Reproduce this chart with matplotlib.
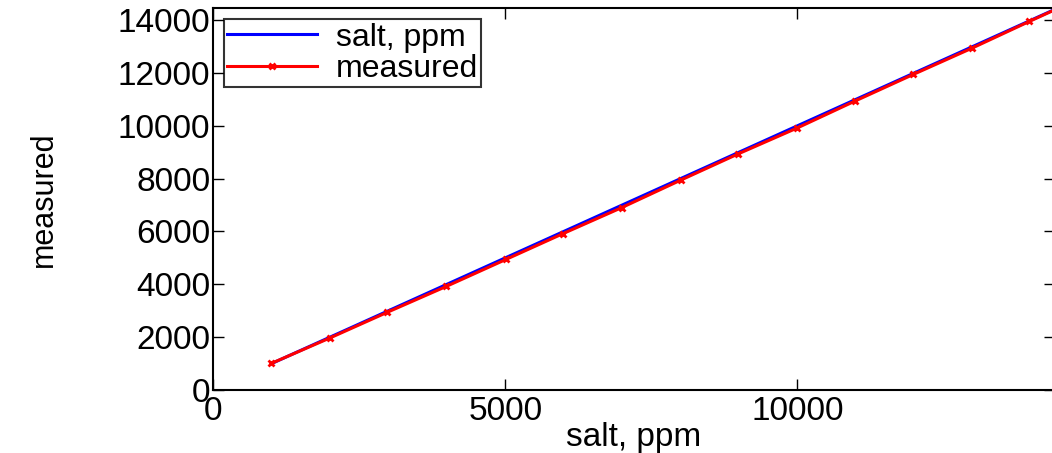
"""
Salt concentration vs measured value
"""

import matplotlib.pyplot as plt

# data
salt = [1000, 2000, 2980, 3990, 5010, 5990, 6990, 8010, 8980, 10000, 10980, 11980, 12980, 13970, 15000]
measured = [1010, 1970, 2940, 3920, 4940, 5920, 6900, 7950, 8930, 9920, 10930, 11940, 12930, 13950, 14990]

xticks = [0, 5000, 10000]
yticks = [0, 2000, 4000, 6000, 8000, 10000, 12000, 14000]

plt.rcParams['font.family'] = ['Liberation Sans', 'DejaVu Sans']

fig = plt.figure(figsize=(10.52, 4.53), dpi=100)
ax = fig.add_axes([0.2025, 0.139, 0.80, 0.843])

ax.plot(salt, salt, color='b', linewidth=2.2, label='salt, ppm')
ax.plot(salt, measured, color='r', linewidth=2.2, marker='x',
        markersize=5, markeredgewidth=2, label='measured')

ax.set_xlim(0, 14400)
ax.set_ylim(0, 14450)
ax.set_xticks(xticks)
ax.set_yticks(yticks)
ax.tick_params(direction='in', length=8, width=1, labelsize=24,
               top=True, right=True, pad=2)
ax.tick_params(axis='x', pad=4)
for s in ax.spines.values():
    s.set_linewidth(1.5)

ax.set_xlabel('salt, ppm', fontsize=24, labelpad=-3)
ax.set_ylabel('measured', fontsize=22, labelpad=42)

leg = ax.legend(loc='upper left', fontsize=23, frameon=True, fancybox=False,
                edgecolor='k', handlelength=2.8, borderaxespad=0.35,
                borderpad=0.1, labelspacing=0.05, handletextpad=0.6)
leg.get_frame().set_linewidth(1.5)

fig.savefig('out.png', dpi=100)
